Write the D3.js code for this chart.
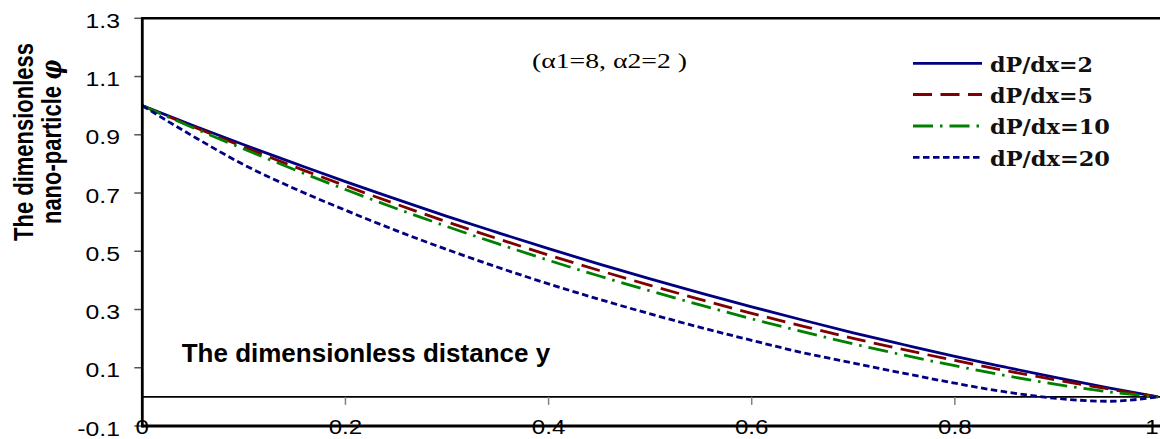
<!DOCTYPE html>
<html>
<head>
<meta charset="utf-8">
<script src="https://cdn.jsdelivr.net/npm/d3@7/dist/d3.min.js"></script>
<style>
  html, body { margin: 0; padding: 0; background: #fff; }
  svg { display: block; }
</style>
</head>
<body>
<svg id="chart" width="1160" height="439"></svg>
<script>
// Distance across the channel
const yPositions = [0, 0.05, 0.1, 0.15, 0.2, 0.25, 0.3, 0.35, 0.4, 0.45, 0.5,
                    0.55, 0.6, 0.65, 0.7, 0.75, 0.8, 0.85, 0.9, 0.95, 1];

// Nano-particle concentration for each pressure gradient
const phiDp2  = [1.000, 0.932, 0.866, 0.802, 0.739, 0.679, 0.620, 0.564, 0.509, 0.456, 0.405,
                 0.356, 0.309, 0.264, 0.220, 0.179, 0.139, 0.102, 0.066, 0.032, 0.000];
const phiDp5  = [1.000, 0.928, 0.858, 0.790, 0.725, 0.662, 0.601, 0.543, 0.487, 0.434, 0.383,
                 0.334, 0.287, 0.243, 0.201, 0.162, 0.125, 0.090, 0.058, 0.028, 0.000];
const phiDp10 = [1.000, 0.924, 0.851, 0.780, 0.712, 0.647, 0.585, 0.526, 0.469, 0.415, 0.364,
                 0.315, 0.268, 0.224, 0.182, 0.143, 0.107, 0.073, 0.043, 0.018, 0.000];
const phiDp20 = [1.000, 0.895, 0.797, 0.715, 0.641, 0.571, 0.506, 0.445, 0.388, 0.335, 0.285,
                 0.238, 0.194, 0.152, 0.116, 0.081, 0.047, 0.017, -0.005, -0.015, 0.000];

const seriesNames = ["dP/dx=2", "dP/dx=5", "dP/dx=10", "dP/dx=20"];
const xTickValues = [0, 0.2, 0.4, 0.6, 0.8, 1];
const xTickLabels = ["0", "0.2", "0.4", "0.6", "0.8", "1"];
const yTickValues = [1.3, 1.1, 0.9, 0.7, 0.5, 0.3, 0.1, -0.1];
const yTickLabels = ["1.3", "1.1", "0.9", "0.7", "0.5", "0.3", "0.1", "-0.1"];

const seriesStyles = [
  { color: "#000080", dash: null },
  { color: "#800000", dash: "19,8.5" },
  { color: "#008000", dash: "20,7,2.5,7" },
  { color: "#000080", dash: "6.5,3.5" }
];
const seriesValues = [phiDp2, phiDp5, phiDp10, phiDp20];

const svg = d3.select("#chart");
const x = d3.scaleLinear().domain([0, 1]).range([142.3, 1158]);
const y = d3.scaleLinear().domain([-0.1, 1.3]).range([426, 18.3]);

const tickFont = "'Liberation Sans', Arial, sans-serif";

// Horizontal zero line with ticks hanging below it
svg.append("line")
  .attr("x1", x(0)).attr("x2", 1160)
  .attr("y1", y(0)).attr("y2", y(0))
  .attr("stroke", "#000").attr("stroke-width", 1.6);

svg.append("g").selectAll("line")
  .data(xTickValues.slice(1, -1))
  .join("line")
  .attr("x1", d => x(d)).attr("x2", d => x(d))
  .attr("y1", y(0)).attr("y2", y(0) + 8)
  .attr("stroke", "#808080").attr("stroke-width", 1.5);

// Y axis ticks
svg.append("g").selectAll("line")
  .data(yTickValues)
  .join("line")
  .attr("x1", x(0) - 8).attr("x2", x(0))
  .attr("y1", d => y(d)).attr("y2", d => y(d))
  .attr("stroke", "#555").attr("stroke-width", 1.5);

// Frame: top edge
svg.append("line")
  .attr("x1", x(0) - 1).attr("x2", 1160)
  .attr("y1", y(1.3)).attr("y2", y(1.3))
  .attr("stroke", "#000").attr("stroke-width", 2.4);

// Curves
const line = d3.line()
  .x((d, i) => x(yPositions[i]))
  .y(d => y(d))
  .curve(d3.curveMonotoneX);

svg.append("g").selectAll("path")
  .data(seriesValues)
  .join("path")
  .attr("d", d => line(d))
  .attr("fill", "none")
  .attr("stroke", (d, i) => seriesStyles[i].color)
  .attr("stroke-width", 2.8)
  .attr("stroke-dasharray", (d, i) => seriesStyles[i].dash);

// Frame: bottom edge and left axis
svg.append("line")
  .attr("x1", x(0)).attr("x2", 1160)
  .attr("y1", y(-0.1)).attr("y2", y(-0.1))
  .attr("stroke", "#000").attr("stroke-width", 3);

svg.append("line")
  .attr("x1", x(0)).attr("x2", x(0))
  .attr("y1", y(1.3) - 1).attr("y2", y(-0.1) + 1.5)
  .attr("stroke", "#000").attr("stroke-width", 2.8);

// Tick labels (slightly widened glyphs)
svg.append("g").selectAll("text")
  .data(yTickValues)
  .join("text")
  .attr("transform", d => `translate(120,${y(d) + 9.5}) scale(1.18,1)`)
  .attr("text-anchor", "end")
  .attr("font-family", tickFont)
  .attr("font-size", 21)
  .attr("fill", "#000")
  .text((d, i) => yTickLabels[i]);

svg.append("g").selectAll("text")
  .data(xTickValues)
  .join("text")
  .attr("transform", d => `translate(${Math.min(x(d), 1152)},434.3) scale(1.15,1)`)
  .attr("text-anchor", "middle")
  .attr("font-family", tickFont)
  .attr("font-size", 21)
  .attr("fill", "#000")
  .text((d, i) => xTickLabels[i]);

// Axis titles
svg.append("text")
  .attr("x", 181.7).attr("y", 361.5)
  .attr("font-family", tickFont)
  .attr("font-weight", "bold")
  .attr("font-size", 26)
  .attr("fill", "#000")
  .text("The dimensionless distance y");

const yTitle = svg.append("g")
  .attr("transform", "translate(0,142) scale(1.26,1) rotate(-90)")
  .attr("font-family", tickFont)
  .attr("font-weight", "bold")
  .attr("font-size", 22)
  .attr("fill", "#000")
  .attr("text-anchor", "middle");
yTitle.append("text").attr("x", 0).attr("y", 33 / 1.26).text("The dimensionless");
const line2 = yTitle.append("text").attr("x", 0).attr("y", 61 / 1.26);
line2.append("tspan").text("nano-particle ");
line2.append("tspan")
  .attr("font-family", "'DejaVu Serif', serif")
  .attr("font-style", "italic")
  .text("φ");

// Parameter note
svg.append("text")
  .attr("x", 532).attr("y", 68)
  .attr("font-family", "'Liberation Serif', 'Times New Roman', serif")
  .attr("font-size", 21)
  .attr("textLength", 155)
  .attr("lengthAdjust", "spacingAndGlyphs")
  .attr("fill", "#000")
  .text("(α1=8, α2=2 )");

// Legend
const legendLineY = [63.3, 94.5, 126, 157.3];
const legendTextW = [103, 103, 120, 120];
const legend = svg.append("g");
legend.selectAll("line")
  .data(seriesNames)
  .join("line")
  .attr("x1", 913).attr("x2", 982)
  .attr("y1", (d, i) => legendLineY[i]).attr("y2", (d, i) => legendLineY[i])
  .attr("stroke", (d, i) => seriesStyles[i].color)
  .attr("stroke-width", 2.8)
  .attr("stroke-dasharray", (d, i) => seriesStyles[i].dash);
legend.selectAll("text")
  .data(seriesNames)
  .join("text")
  .attr("x", 990)
  .attr("y", (d, i) => legendLineY[i] + 8.4)
  .attr("font-family", "'DejaVu Serif', serif")
  .attr("font-weight", "bold")
  .attr("font-size", 20.5)
  .attr("textLength", (d, i) => legendTextW[i])
  .attr("lengthAdjust", "spacingAndGlyphs")
  .attr("fill", "#111")
  .text(d => d);
</script>
</body>
</html>
